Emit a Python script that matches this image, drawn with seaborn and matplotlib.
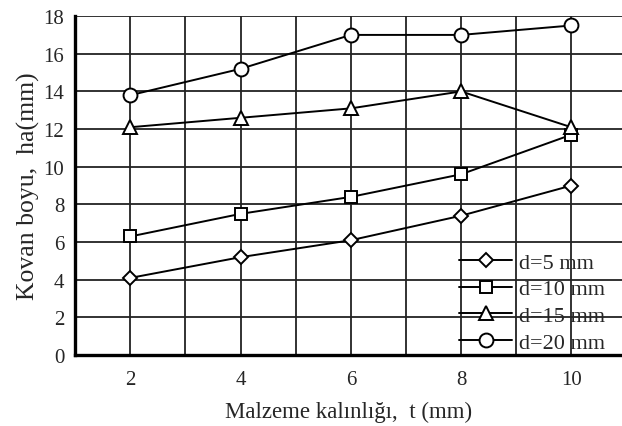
import pandas as pd
import seaborn as sns
import matplotlib.pyplot as plt

# values
t_mm = [2, 4, 6, 8, 10]
h_d5 = [4.1, 5.2, 6.1, 7.4, 9.0]
h_d10 = [6.3, 7.5, 8.4, 9.6, 11.7]
h_d15 = [12.1, 12.6, 13.1, 14.0, 12.1]
h_d20 = [13.8, 15.2, 17.0, 17.0, 17.5]
labels = ['d=5 mm', 'd=10 mm', 'd=15 mm', 'd=20 mm']
markers = ['D', 's', '^', 'o']
msizes = [7.5, 8.5, 9.5, 10]

sns.set_style('white')
plt.rcParams['font.family'] = ['Liberation Serif', 'DejaVu Serif']

fig = plt.figure(figsize=(6.22, 4.27), dpi=100)
ax = fig.add_axes([0.121, 0.166, 0.879, 0.794])

series = [h_d5, h_d10, h_d15, h_d20]
for vals, lab, mk, ms in zip(series, labels, markers, msizes):
    df = pd.DataFrame({'t': t_mm, 'h': vals})
    sns.lineplot(data=df, x='t', y='h', ax=ax, color='black', linewidth=1.4,
                 marker=mk, markersize=ms, markerfacecolor='white',
                 markeredgecolor='black', markeredgewidth=1.4,
                 label=lab, legend=False, zorder=3)

ax.set_xlim(1, 10.92)
ax.set_ylim(0, 18)
ax.set_xticks(range(1, 11))
ax.set_xticklabels(['' if i % 2 else str(i) for i in range(1, 11)])
ax.set_yticks(range(0, 19, 2))
ax.grid(True, color='#222222', linewidth=1.3)
ax.tick_params(length=0, labelsize=15)
ax.tick_params(axis='x', pad=11)
ax.tick_params(axis='y', pad=8)

for s in ['top', 'right']:
    ax.spines[s].set_visible(False)
for s in ['left', 'bottom']:
    ax.spines[s].set_color('black')
    ax.spines[s].set_linewidth(2.4)

ax.set_xlabel('Malzeme kalınlığı,  t (mm)', fontsize=16.5, labelpad=8)
ax.set_ylabel('Kovan boyu,  ha(mm)', fontsize=18.5, labelpad=2)

ax.legend(handles=ax.get_lines(), labels=labels, loc='lower left',
          bbox_to_anchor=(0.698, 0.0), frameon=False, fontsize=16,
          handlelength=2.4, handletextpad=0.3, labelspacing=0.28,
          borderpad=0.1, borderaxespad=0)

fig.savefig('out.png', dpi=100)
